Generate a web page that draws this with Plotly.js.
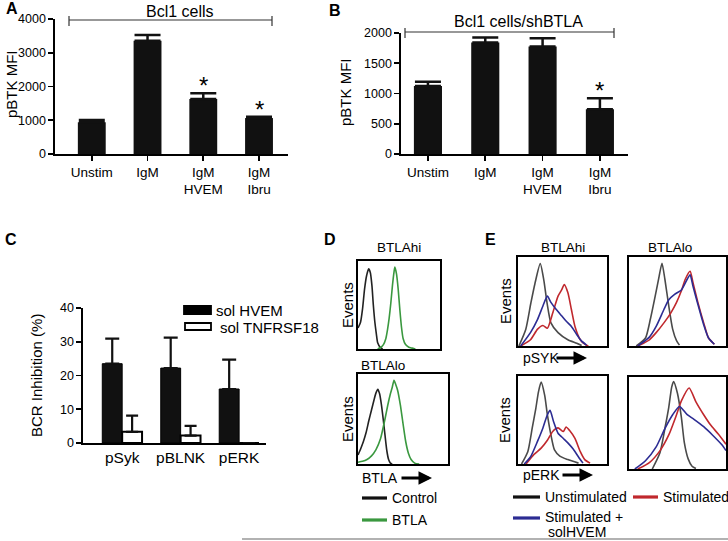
<!DOCTYPE html>
<html>
<head>
<meta charset="utf-8">
<script src="https://cdn.plot.ly/plotly-3.0.1.min.js"></script>
<style>html,body{margin:0;padding:0;background:#fff;}#chart{width:728px;height:541px;}</style>
</head>
<body>
<div id="chart"></div>
<script>
// ---------- DATA ----------
// Panel A / B (bar charts)
const catsAB = ['Unstim', 'IgM', 'IgM<br>HVEM', 'IgM<br>Ibru'];
const pbtkA = [940, 3355, 1630, 1065];
const errA = [70, 170, 170, 40];
const starsA = ['', '', '*', '*'];
const pbtkB = [1125, 1845, 1775, 740];
const errB = [70, 80, 140, 180];
const starsB = ['', '', '', '*'];
const ticksA = [0, 1000, 2000, 3000, 4000];
const ticksB = [0, 500, 1000, 1500, 2000];

// Panel C
const catsC = ['pSyk', 'pBLNK', 'pERK'];
const solHVEM = [23.5, 22.2, 16.0];
const solHVEMerr = [7.4, 9.0, 8.7];
const solTNF = [3.3, 2.2, 0];
const solTNFerr = [4.8, 2.9, 0];
const ticksC = [0, 10, 20, 30, 40];

// Panel D histograms (x: % of box width, y: % of box height)
const dHiCtrlX = [0, 3, 5.6, 8, 10.4, 13, 15, 17, 18.7, 20.5, 22.4, 24, 27, 30];
const dHiCtrlY = [24, 30, 46, 68, 83, 91, 87, 72, 50, 31, 17, 7, 2, 0];
const dHiBtlaX = [24, 28, 31, 34, 36, 38, 40, 42, 44, 45, 47, 49, 51, 53, 55, 58, 62, 66, 70];
const dHiBtlaY = [0, 2, 5, 12, 22, 35, 52, 72, 88, 93, 85, 68, 45, 25, 12, 5, 2, 1, 0];
const dLoCtrlX = [0, 3, 6, 9, 12, 15, 18, 20, 22, 24, 26, 28, 30, 32, 34, 36, 38];
const dLoCtrlY = [10, 17, 25, 35, 48, 60, 72, 79, 83, 78, 66, 50, 32, 15, 5, 1, 0];
const dLoBtlaX = [0, 5, 10, 15, 20, 25, 30, 33, 36, 38, 40, 42, 44, 47, 50, 53, 56, 59, 63, 68];
const dLoBtlaY = [2, 3, 5, 9, 16, 28, 50, 65, 78, 85, 93, 88, 82, 66, 45, 25, 12, 5, 1, 0];

// Panel E histograms
const eSykHiUnX = [1, 8.7, 14.4, 19, 25, 29, 32.7, 37, 45, 56, 66, 71.5];
const eSykHiUnY = [0, 18.6, 48, 70, 92.5, 74, 48, 26, 15, 7, 3, 0.5];
const eSykHiStX = [3, 14, 22, 28, 33, 39, 45, 49, 52, 56, 60, 64, 70, 75, 79];
const eSykHiStY = [0, 7, 19, 23, 20, 37, 56, 63, 69, 60, 41, 22, 7, 2, 0];
const eSykHiHvX = [3, 14, 22, 28, 33, 37, 43, 49, 54, 60, 66, 71, 77];
const eSykHiHvY = [0, 15, 30, 45, 56, 49, 41, 34, 28, 22, 13, 6, 1];

const eSykLoUnX = [7.5, 17, 22, 27, 31, 34, 37, 41, 45, 49, 52];
const eSykLoUnY = [0, 9, 30, 56, 78, 93, 75, 45, 19, 6, 1];
const eSykLoStX = [9, 21, 28, 36, 43, 49, 54, 58, 63, 66, 71, 77, 82, 88];
const eSykLoStY = [0, 7, 15, 26, 37, 49, 62, 75, 84, 71, 49, 26, 9, 2];
const eSykLoHvX = [9, 21, 28, 36, 41, 47, 54, 60, 63, 66, 71, 77, 82, 88];
const eSykLoHvY = [0, 10, 22, 41, 52, 58, 63, 75, 80, 67, 47, 24, 9, 2];

const eErkHiUnX = [4, 11, 16, 20, 23, 26, 30, 33, 37, 41, 47, 56, 68];
const eErkHiUnY = [0, 14, 41, 63, 82, 93, 78, 56, 33, 16, 9, 5, 1];
const eErkHiHvX = [7, 14, 22, 28, 33, 36, 40, 45, 51, 56, 62, 68, 73];
const eErkHiHvY = [0, 8, 26, 41, 56, 61, 48, 35, 29, 24, 17, 8, 1];
const eErkHiStX = [9, 18, 26, 33, 39, 45, 51, 54, 58, 64, 70, 75, 81];
const eErkHiStY = [0, 11, 18, 27, 37, 41, 37, 42, 38, 29, 14, 5, 1];

const eErkLoUnX = [24, 32, 37, 41, 44, 46, 50, 54, 57, 61, 65, 69];
const eErkLoUnY = [0, 18, 44, 67, 89, 95, 82, 56, 29, 11, 3, 0.5];
const eErkLoStX = [9, 21, 32, 41, 49, 54, 62, 69, 77, 84, 92, 100];
const eErkLoStY = [0, 7, 20, 37, 59, 74, 88, 73, 59, 48, 38, 27];
const eErkLoHvX = [6, 17, 28, 37, 45, 52, 60, 67, 77, 86, 96, 100];
const eErkLoHvY = [0, 9, 24, 44, 59, 68, 59, 54, 46, 37, 26, 20];

// ---------- HELPERS ----------
const W = 728, H = 541;
const FONT = 'Liberation Sans, Arial, Helvetica, sans-serif';
const px = v => v / W;
const py = v => 1 - v / H;
const C_BLACK = '#111', C_GRAY = '#4a4a4a', C_GREEN = '#3a983f', C_RED = '#c0282d', C_BLUE = '#2c2c93';

function hist(n, xs, ys, color) {
  return {type: 'scatter', mode: 'lines', x: xs, y: ys, xaxis: 'x' + n, yaxis: 'y' + n,
    line: {color: color, width: 1.6, shape: 'spline', smoothing: 0.6}, hoverinfo: 'skip', showlegend: false};
}
function boxX(n, x0, x1) {
  return {domain: [px(x0), px(x1)], range: [0, 100], anchor: 'y' + n, showline: true, mirror: true,
    linecolor: '#000', linewidth: 1.6, ticks: '', showticklabels: false, showgrid: false, zeroline: false, fixedrange: true};
}
function boxY(n, y0, y1) {
  return {domain: [py(y1), py(y0)], range: [0, 100], anchor: 'x' + n, showline: true, mirror: true,
    linecolor: '#000', linewidth: 1.6, ticks: '', showticklabels: false, showgrid: false, zeroline: false, fixedrange: true};
}
function T(text, x, y, o) {
  o = o || {};
  return {text: text, xref: 'paper', yref: 'paper', x: px(x), y: py(y), showarrow: false,
    xanchor: o.xa || 'center', yanchor: 'middle', textangle: o.rot || 0,
    font: {family: FONT, size: o.size || 14, color: '#000', weight: o.bold ? 'bold' : 'normal'}};
}
function arrow(xTail, xTip, y) {
  return {text: '', xref: 'paper', yref: 'paper', x: px(xTip), y: py(y), axref: 'pixel', ayref: 'pixel',
    ax: -(xTip - xTail), ay: 0, showarrow: true, arrowhead: 2, arrowsize: 0.9, arrowwidth: 3, arrowcolor: '#000'};
}
function hline(x0, x1, y, color, w) {
  return {type: 'line', xref: 'paper', yref: 'paper', x0: px(x0), x1: px(x1), y0: py(y), y1: py(y),
    line: {color: color, width: w}};
}
function vline(x, y0, y1, color, w) {
  return {type: 'line', xref: 'paper', yref: 'paper', x0: px(x), x1: px(x), y0: py(y0), y1: py(y1),
    line: {color: color, width: w}};
}
function rect(x0, x1, y0, y1, fill) {
  return {type: 'rect', xref: 'paper', yref: 'paper', x0: px(x0), x1: px(x1), y0: py(y1), y1: py(y0),
    fillcolor: fill, line: {color: '#000', width: 1.8}};
}

const barAxisX = (dom, rng, anchor, tsize, ticks) => ({domain: dom, range: rng, type: 'category', anchor: anchor,
  showline: true, linecolor: '#000', linewidth: 1.6, ticks: ticks, ticklen: 5, tickwidth: 1.6, tickcolor: '#000',
  tickfont: {family: FONT, size: tsize, color: '#000'}, showgrid: false, zeroline: false, fixedrange: true});
const barAxisY = (dom, rng, anchor, vals) => ({domain: dom, range: rng, anchor: anchor, tickvals: vals,
  showline: true, linecolor: '#000', linewidth: 1.6, ticks: 'outside', ticklen: 5, tickwidth: 1.6, tickcolor: '#000',
  ticklabelstandoff: 0,
  tickfont: {family: FONT, size: 12.5, color: '#000'}, showgrid: false, zeroline: false, fixedrange: true});

// ---------- TRACES ----------
const traces = [
  {type: 'bar', x: catsAB, y: pbtkA, xaxis: 'x', yaxis: 'y', width: 0.5, marker: {color: C_BLACK},
    error_y: {type: 'data', symmetric: false, array: errA, arrayminus: errA.map(() => 0), color: C_BLACK, thickness: 2.5, width: 13},
    showlegend: false, hoverinfo: 'skip'},
  {type: 'bar', x: catsAB, y: pbtkB, xaxis: 'x2', yaxis: 'y2', width: 0.49, marker: {color: C_BLACK},
    error_y: {type: 'data', symmetric: false, array: errB, arrayminus: errB.map(() => 0), color: C_BLACK, thickness: 2.5, width: 13},
    showlegend: false, hoverinfo: 'skip'},
  {type: 'bar', name: 'sol HVEM', x: catsC, y: solHVEM, xaxis: 'x3', yaxis: 'y3', marker: {color: C_BLACK, line: {color: '#000', width: 1}},
    error_y: {type: 'data', symmetric: false, array: solHVEMerr, arrayminus: solHVEMerr.map(() => 0), color: C_BLACK, thickness: 2.2, width: 7},
    showlegend: false, hoverinfo: 'skip'},
  {type: 'bar', name: 'sol TNFRSF18', x: catsC, y: solTNF, xaxis: 'x3', yaxis: 'y3', marker: {color: '#fff', line: {color: '#000', width: 2}},
    error_y: {type: 'data', symmetric: false, array: solTNFerr, arrayminus: solTNFerr.map(() => 0), color: C_BLACK, thickness: 2.2, width: 6},
    showlegend: false, hoverinfo: 'skip'},
  hist(4, dHiCtrlX, dHiCtrlY, '#222'), hist(4, dHiBtlaX, dHiBtlaY, C_GREEN),
  hist(5, dLoCtrlX, dLoCtrlY, '#222'), hist(5, dLoBtlaX, dLoBtlaY, C_GREEN),
  hist(6, eSykHiUnX, eSykHiUnY, C_GRAY), hist(6, eSykHiStX, eSykHiStY, C_RED), hist(6, eSykHiHvX, eSykHiHvY, C_BLUE),
  hist(7, eSykLoUnX, eSykLoUnY, C_GRAY), hist(7, eSykLoStX, eSykLoStY, C_RED), hist(7, eSykLoHvX, eSykLoHvY, C_BLUE),
  hist(8, eErkHiUnX, eErkHiUnY, C_GRAY), hist(8, eErkHiStX, eErkHiStY, C_RED), hist(8, eErkHiHvX, eErkHiHvY, C_BLUE),
  hist(9, eErkLoUnX, eErkLoUnY, C_GRAY), hist(9, eErkLoStX, eErkLoStY, C_RED), hist(9, eErkLoHvX, eErkLoHvY, C_BLUE)
];

// ---------- ANNOTATIONS ----------
const ann = [
  T('A', 4, 9, {xa: 'left', size: 16, bold: true}),
  T('B', 327, 10, {xa: 'left', size: 16, bold: true}),
  T('C', 3, 239, {xa: 'left', size: 16, bold: true}),
  T('D', 322, 239, {xa: 'left', size: 16, bold: true}),
  T('E', 483, 239, {xa: 'left', size: 16, bold: true}),
  T('Bcl1 cells', 180, 12, {size: 16}),
  T('Bcl1 cells/shBTLA', 518, 21, {size: 16}),
  T('pBTK MFI', 12, 84, {size: 15, rot: -90}),
  T('pBTK MFI', 346, 92, {size: 15, rot: -90}),
  T('BCR Inhibition (%)', 36, 376, {size: 15, rot: -90}),
  T('sol HVEM', 214, 310, {xa: 'left', size: 15}),
  T('sol TNFRSF18', 218, 327, {xa: 'left', size: 15}),
  T('BTLAhi', 399, 247, {size: 13.5}),
  T('BTLAlo', 383, 365, {size: 13.5}),
  T('Events', 347, 305, {size: 15, rot: -90}),
  T('Events', 347, 419, {size: 15, rot: -90}),
  T('BTLA', 360, 478, {xa: 'left', size: 14}),
  arrow(400, 432, 478),
  T('Control', 390, 498, {xa: 'left', size: 14}),
  T('BTLA', 390, 520, {xa: 'left', size: 14}),
  T('BTLAhi', 563, 247, {size: 13.5}),
  T('BTLAlo', 670, 247, {size: 13.5}),
  T('Events', 505, 301, {size: 15, rot: -90}),
  T('Events', 505, 420, {size: 15, rot: -90}),
  T('pSYK', 521, 358, {xa: 'left', size: 14}),
  arrow(555, 587, 358),
  T('pERK', 521, 475, {xa: 'left', size: 14}),
  arrow(561, 593, 475),
  T('Unstimulated', 543, 497, {xa: 'left', size: 14}),
  T('Stimulated', 661, 497, {xa: 'left', size: 14}),
  T('Stimulated +', 543, 517, {xa: 'left', size: 14}),
  T('solHVEM', 577, 532, {size: 14})
];
// significance stars placed at bar + error through the axes
catsAB.forEach((c, i) => {
  if (starsA[i]) ann.push({text: starsA[i], xref: 'x', yref: 'y', x: c, y: pbtkA[i] + errA[i], yanchor: 'bottom', yshift: -8,
    showarrow: false, font: {family: FONT, size: 24, color: '#000'}});
  if (starsB[i]) ann.push({text: starsB[i], xref: 'x2', yref: 'y2', x: c, y: pbtkB[i] + errB[i], yanchor: 'bottom', yshift: -8,
    showarrow: false, font: {family: FONT, size: 24, color: '#000'}});
});

// ---------- SHAPES ----------
const shapes = [
  hline(69, 272, 20, '#333', 1.2), vline(69, 16, 26, '#333', 1.2), vline(272, 16, 26, '#333', 1.2),
  hline(405, 614, 32, '#333', 1.2), vline(405, 28, 38, '#333', 1.2), vline(614, 28, 38, '#333', 1.2),
  rect(184, 211, 306, 314, '#000'), rect(185, 211, 323, 330, '#fff'),
  hline(362, 387, 498, '#111', 3.2), hline(362, 387, 520, C_GREEN, 3.2),
  hline(513, 540, 497, '#111', 3.2), hline(633, 658, 497, C_RED, 3.2), hline(513, 540, 518, C_BLUE, 3.2),
  hline(242, 728, 539, '#666', 1.2)
];

const layout = {
  width: W, height: H, margin: {l: 0, r: 0, t: 0, b: 0}, paper_bgcolor: '#fff', plot_bgcolor: 'rgba(0,0,0,0)',
  showlegend: false, barmode: 'group', bargap: 0.32, bargroupgap: 0,
  font: {family: FONT, color: '#000'},
  xaxis: barAxisX([px(55), px(288)], [-0.66, 3.52], 'y', 13.5, 'outside'),
  yaxis: barAxisY([py(154), py(19)], [0, 4000], 'x', ticksA),
  xaxis2: barAxisX([px(401), px(628)], [-0.47, 3.49], 'y2', 13.5, 'outside'),
  yaxis2: barAxisY([py(154), py(33)], [0, 2000], 'x2', ticksB),
  xaxis3: barAxisX([px(83), px(266)], [-0.67, 2.46], 'y3', 15.5, ''),
  yaxis3: barAxisY([py(443), py(308)], [0, 40], 'x3', ticksC),
  xaxis4: boxX(4, 358, 440), yaxis4: boxY(4, 261, 349),
  xaxis5: boxX(5, 358, 448), yaxis5: boxY(5, 374, 464),
  xaxis6: boxX(6, 518, 607), yaxis6: boxY(6, 257, 346),
  xaxis7: boxX(7, 629, 726), yaxis7: boxY(7, 257, 346),
  xaxis8: boxX(8, 518, 607), yaxis8: boxY(8, 376, 464),
  xaxis9: boxX(9, 629, 726), yaxis9: boxY(9, 377, 469),
  annotations: ann, shapes: shapes
};

Plotly.newPlot('chart', traces, layout, {staticPlot: true, displayModeBar: false});
</script>
</body>
</html>
